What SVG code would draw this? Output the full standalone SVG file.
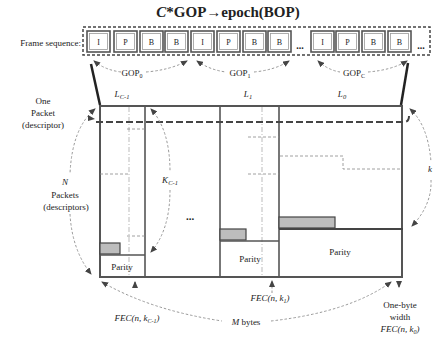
<svg xmlns="http://www.w3.org/2000/svg" width="433" height="338" viewBox="0 0 433 338">
<style>
text{font-family:"Liberation Serif","Times New Roman",serif;fill:#222}
.t{font-size:9px}
.it{font-style:italic}
.fr{fill:#fff;stroke:#555;stroke-width:1.6}
.fi{fill:none;stroke:#999;stroke-width:0.8}
.ft{font-size:8px;text-anchor:middle}
.arc{fill:none;stroke:#999;stroke-width:1;stroke-dasharray:2.5,2}
.ln{stroke:#555;stroke-width:1.6;fill:none}
.dd{stroke:#aaa;stroke-width:0.8;stroke-dasharray:5,2,1,2;fill:none}
.ds{stroke:#888;stroke-width:0.8;stroke-dasharray:3,2;fill:none}
.bar{fill:#bdbdbd;stroke:#444;stroke-width:1.2}
</style>
<defs>
<marker id="ah" markerUnits="userSpaceOnUse" markerWidth="7" markerHeight="6" refX="6" refY="3" orient="auto-start-reverse">
<path d="M0,0 L7,3 L0,6 z" fill="#444"/>
</marker>
</defs>
<g id="title"><text x="228" y="17" font-size="15" font-weight="bold" text-anchor="middle"><tspan font-style="italic">C</tspan>*GOP→epoch(BOP)</text></g>
<g id="frames">
<text class="t" x="81" y="46" text-anchor="end" font-size="8.5">Frame sequence:</text>
<rect x="83" y="27" width="347" height="28" fill="none" stroke="#444" stroke-width="1.5" stroke-dasharray="3,2"/>
<g id="f1"><rect class="fr" x="87" y="31" width="23" height="21"/><rect class="fi" x="89.5" y="33.5" width="18" height="16"/><text class="ft" x="98.5" y="45">I</text></g>
<g id="f2"><rect class="fr" x="114" y="31" width="23" height="21"/><rect class="fi" x="116.5" y="33.5" width="18" height="16"/><text class="ft" x="125.5" y="45">P</text></g>
<g id="f3"><rect class="fr" x="140" y="31" width="23" height="21"/><rect class="fi" x="142.5" y="33.5" width="18" height="16"/><text class="ft" x="151.5" y="45">B</text></g>
<g id="f4"><rect class="fr" x="165" y="31" width="23" height="21"/><rect class="fi" x="167.5" y="33.5" width="18" height="16"/><text class="ft" x="176.5" y="45">B</text></g>
<g id="f5"><rect class="fr" x="191" y="31" width="23" height="21"/><rect class="fi" x="193.5" y="33.5" width="18" height="16"/><text class="ft" x="202.5" y="45">I</text></g>
<g id="f6"><rect class="fr" x="217" y="31" width="23" height="21"/><rect class="fi" x="219.5" y="33.5" width="18" height="16"/><text class="ft" x="228.5" y="45">P</text></g>
<g id="f7"><rect class="fr" x="243" y="31" width="23" height="21"/><rect class="fi" x="245.5" y="33.5" width="18" height="16"/><text class="ft" x="254.5" y="45">B</text></g>
<g id="f8"><rect class="fr" x="268" y="31" width="23" height="21"/><rect class="fi" x="270.5" y="33.5" width="18" height="16"/><text class="ft" x="279.5" y="45">B</text></g>
<text x="300" y="49" font-size="10" font-weight="bold" text-anchor="middle">...</text>
<g id="f9"><rect class="fr" x="311" y="31" width="23" height="21"/><rect class="fi" x="313.5" y="33.5" width="18" height="16"/><text class="ft" x="322.5" y="45">I</text></g>
<g id="f10"><rect class="fr" x="336" y="31" width="23" height="21"/><rect class="fi" x="338.5" y="33.5" width="18" height="16"/><text class="ft" x="347.5" y="45">P</text></g>
<g id="f11"><rect class="fr" x="362" y="31" width="23" height="21"/><rect class="fi" x="364.5" y="33.5" width="18" height="16"/><text class="ft" x="373.5" y="45">B</text></g>
<g id="f12"><rect class="fr" x="388" y="31" width="23" height="21"/><rect class="fi" x="390.5" y="33.5" width="18" height="16"/><text class="ft" x="399.5" y="45">B</text></g>
<text x="421" y="49" font-size="10" font-weight="bold" text-anchor="middle">...</text>
</g>
<g id="gop-labels">
<text class="t" x="132" y="76" text-anchor="middle" font-size="8.5">GOP<tspan font-size="6" dy="2">0</tspan></text>
<text class="t" x="240" y="76" text-anchor="middle" font-size="8.5">GOP<tspan font-size="6" dy="2">1</tspan></text>
<text class="t" x="354" y="76" text-anchor="middle" font-size="8.5">GOP<tspan font-size="6" dy="2">C</tspan></text>
</g>
<g id="block">
<rect x="100" y="106" width="302" height="171" fill="none" stroke="#555" stroke-width="2"/>
<line class="ln" x1="145" y1="106" x2="145" y2="277"/>
<line class="ln" x1="220" y1="106" x2="220" y2="277"/>
<line class="ln" x1="279" y1="106" x2="279" y2="277"/>
<line class="dd" x1="129" y1="107" x2="129" y2="276"/>
<line class="dd" x1="262" y1="107" x2="262" y2="276"/>
<path class="ds" d="M127,129 H145 M100,174 H128 M127,236 H145 M248,137 H279 M248,174 H279 M280,156 H343 V169 H402"/>
<path d="M96,122 H404 Q409,122 409,116" fill="none" stroke="#444" stroke-width="2" stroke-dasharray="7,3"/>
<rect class="bar" x="100" y="243" width="20" height="11"/>
<rect class="bar" x="220" y="229" width="26" height="11"/>
<rect class="bar" x="279" y="217" width="56" height="11"/>
<line class="ln" x1="100" y1="255" x2="145" y2="255"/>
<line class="ln" x1="220" y1="241" x2="279" y2="241"/>
<line x1="279" y1="229" x2="403" y2="229" stroke="#444" stroke-width="2.2"/>
<text class="t" x="122" y="270" text-anchor="middle">Parity</text>
<text class="t" x="250" y="262" text-anchor="middle">Parity</text>
<text class="t" x="340" y="255" text-anchor="middle">Parity</text>
<text x="190" y="220" font-size="11" font-weight="bold" text-anchor="middle">...</text>
<text class="t it" x="122" y="97" text-anchor="middle" font-size="10">L<tspan font-size="6.5" dy="2">C-1</tspan></text>
<text class="t it" x="248" y="97" text-anchor="middle" font-size="10">L<tspan font-size="6.5" dy="2">1</tspan></text>
<text class="t it" x="342" y="97" text-anchor="middle" font-size="10">L<tspan font-size="6.5" dy="2">0</tspan></text>
<text class="t it" x="170" y="183" text-anchor="middle" font-size="10">K<tspan font-size="6.5" dy="2">C-1</tspan></text>
<text class="t it" x="430" y="172" text-anchor="middle" font-size="10">k</text>
</g>
<g id="left-labels">
<text class="t" x="43" y="104" text-anchor="middle">One</text>
<text class="t" x="43" y="116" text-anchor="middle">Packet</text>
<text class="t" x="43" y="128" text-anchor="middle">(descriptor)</text>
<text class="t it" x="65" y="185" text-anchor="middle" font-size="10">N</text>
<text class="t" x="65" y="198" text-anchor="middle">Packets</text>
<text class="t" x="66" y="210" text-anchor="middle">(descriptors)</text>
</g>
<g id="bottom-labels">
<text class="t it" x="137" y="321" text-anchor="middle">FEC(n, k<tspan font-size="6" dy="2">C-1</tspan><tspan dy="-2">)</tspan></text>
<text class="t it" x="270" y="301" text-anchor="middle">FEC(n, k<tspan font-size="6" dy="2">1</tspan><tspan dy="-2">)</tspan></text>
<text class="t" x="246" y="325" text-anchor="middle"><tspan font-style="italic">M</tspan> bytes</text>
<text class="t" x="400" y="308" text-anchor="middle">One-byte</text>
<text class="t" x="400" y="320" text-anchor="middle">width</text>
<text class="t it" x="400" y="332" text-anchor="middle">FEC(n, k<tspan font-size="6" dy="2">0</tspan><tspan dy="-2">)</tspan></text>
</g>
<g id="connectors">
<path d="M91,64 L100,105" stroke="#222" stroke-width="2.5" fill="none"/>
<path d="M408,63 L401,105" stroke="#222" stroke-width="2.5" fill="none"/>
<path class="arc" marker-start="url(#ah)" d="M94,61 Q105,70 121,72"/>
<path class="arc" marker-end="url(#ah)" d="M146,72 Q170,70 187,61"/>
<path class="arc" marker-start="url(#ah)" d="M197,61 Q210,70 226,72"/>
<path class="arc" marker-end="url(#ah)" d="M254,72 Q275,70 289,61"/>
<path class="arc" marker-start="url(#ah)" d="M318,61 Q328,70 340,72"/>
<path class="arc" marker-end="url(#ah)" d="M368,72 Q392,70 407,61"/>
<path class="arc" marker-start="url(#ah)" d="M95,109 Q72,128 70,174"/>
<path class="arc" marker-end="url(#ah)" d="M70,214 Q72,250 91,274"/>
<path d="M88,115 L95,119 L88,121 z" fill="#444"/>
<path class="arc" marker-start="url(#ah)" d="M151,109 Q170,130 170,172"/>
<path class="arc" marker-end="url(#ah)" d="M170,190 Q170,230 151,252"/>
<path class="arc" marker-start="url(#ah)" d="M410,109 Q428,125 431,162"/>
<path class="arc" marker-end="url(#ah)" d="M431,180 Q432,205 412,226"/>
<path class="arc" marker-start="url(#ah)" d="M102,282 Q150,310 222,321"/>
<path class="arc" marker-end="url(#ah)" d="M271,321 Q350,312 391,282"/>
<path d="M135,286 V282" stroke="#444" marker-end="url(#ah)"/>
<path class="arc" marker-end="url(#ah)" d="M272,293 V281"/>
<path d="M399,286 V287" stroke="#444" marker-end="url(#ah)"/>
</g>
</svg>
